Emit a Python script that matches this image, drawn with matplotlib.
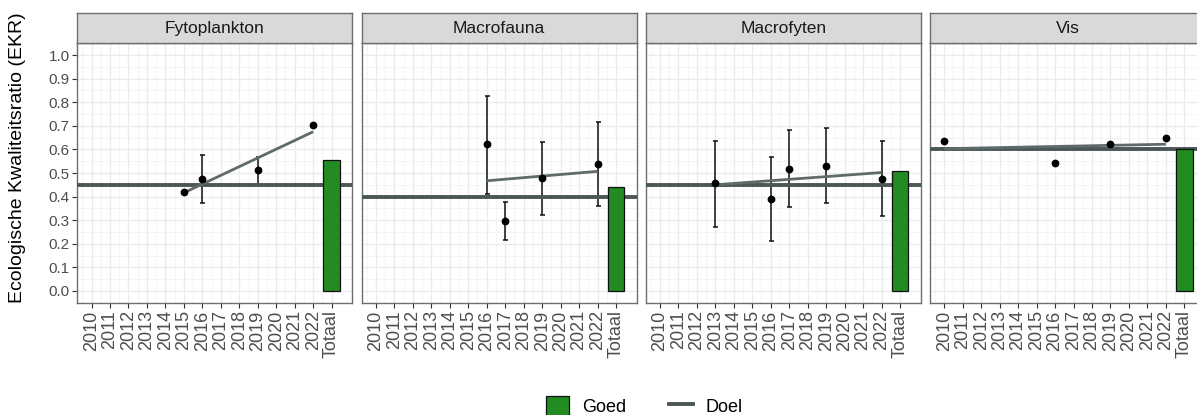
"""EKR per kwaliteitselement: jaarwaarden, trend, doel en totaaloordeel."""

import matplotlib

matplotlib.use("Agg")

import numpy as np
from matplotlib import pyplot as plt
from matplotlib.lines import Line2D
from matplotlib.patches import Patch

plt.rcParams["font.family"] = ["Liberation Sans", "DejaVu Sans"]

YEARS = list(range(2010, 2023))
TICK_LABELS = [str(y) for y in YEARS] + ["Totaal"]

PANELS = ["Fytoplankton", "Macrofauna", "Macrofyten", "Vis"]
DOEL = [0.45, 0.40, 0.45, 0.60]
TOTAAL = [0.557, 0.439, 0.509, 0.60]

# jaarwaarden per paneel: jaar, EKR, ondergrens, bovengrens (None = geen foutbalk)
FYTO_YEARS = [2015, 2016, 2019, 2022]
FYTO_EKR = [0.419, 0.474, 0.512, 0.703]
FYTO_LOW = [None, 0.371, 0.45, None]
FYTO_HIGH = [None, 0.576, 0.569, None]

FAUNA_YEARS = [2016, 2017, 2019, 2022]
FAUNA_EKR = [0.621, 0.296, 0.479, 0.540]
FAUNA_LOW = [0.413, 0.215, 0.324, 0.361]
FAUNA_HIGH = [0.827, 0.375, 0.632, 0.717]

FYTEN_YEARS = [2013, 2016, 2017, 2019, 2022]
FYTEN_EKR = [0.457, 0.388, 0.519, 0.530, 0.475]
FYTEN_LOW = [0.272, 0.211, 0.355, 0.371, 0.317]
FYTEN_HIGH = [0.635, 0.566, 0.682, 0.690, 0.634]

VIS_YEARS = [2010, 2016, 2019, 2022]
VIS_EKR = [0.636, 0.542, 0.622, 0.649]
VIS_LOW = [None, None, None, None]
VIS_HIGH = [None, None, None, None]

# trendlijn: (beginjaar, beginwaarde, eindjaar, eindwaarde)
TRENDS = [
    (2015, 0.416, 2022, 0.675),
    (2016, 0.467, 2022, 0.507),
    (2013, 0.450, 2022, 0.502),
    (2010, 0.603, 2022, 0.622),
]

POINTS = [
    (FYTO_YEARS, FYTO_EKR, FYTO_LOW, FYTO_HIGH),
    (FAUNA_YEARS, FAUNA_EKR, FAUNA_LOW, FAUNA_HIGH),
    (FYTEN_YEARS, FYTEN_EKR, FYTEN_LOW, FYTEN_HIGH),
    (VIS_YEARS, VIS_EKR, VIS_LOW, VIS_HIGH),
]

GREEN = "#228B22"
DOEL_COLOR = "#4B5757"
TREND_COLOR = "#5F6B6B"
BORDER = "#6E6E6E"
W, H = 1197, 415


def pos(year):
    return YEARS.index(year)


def main():
    fig = plt.figure(figsize=(W / 100, H / 100), dpi=100)
    lefts = [77.3, 361.7, 645.7, 930.0]
    pw, top, bottom, strip_top = 275.0, 43.3, 302.7, 13.3

    for i, name in enumerate(PANELS):
        ax = fig.add_axes([lefts[i] / W, 1 - bottom / H, pw / W, (bottom - top) / H])
        sx = fig.add_axes([lefts[i] / W, 1 - top / H, pw / W, (top - strip_top) / H])

        years, ekr, low, high = POINTS[i]
        xs = [pos(y) for y in years]
        for x, v, lo, hi in zip(xs, ekr, low, high):
            if lo is not None:
                ax.errorbar(x, v, yerr=[[v - lo], [hi - v]], fmt="none", ecolor="#111111",
                            elinewidth=1.1, capsize=1.8, capthick=1.1, zorder=2)
        ax.axhline(DOEL[i], color=DOEL_COLOR, linewidth=2.8, zorder=3)
        y0, v0, y1, v1 = TRENDS[i]
        ax.plot([pos(y0), pos(y1)], [v0, v1], color=TREND_COLOR, linewidth=2.0,
                solid_capstyle="butt", zorder=3.5)
        ax.bar(len(YEARS), TOTAAL[i], width=0.9, color=GREEN, edgecolor="#111111",
               linewidth=0.9, zorder=4)
        ax.plot(xs, ekr, "o", color="black", markersize=4.6, zorder=5)

        ax.set_xlim(-0.77, 14.12)
        ax.set_ylim(-0.05, 1.05)
        ax.set_xticks(np.arange(len(TICK_LABELS)))
        ax.set_xticklabels(TICK_LABELS, rotation=90, fontsize=13, color="#4D4D4D")
        ax.set_xticks(np.arange(len(TICK_LABELS)) - 0.5, minor=True)
        ax.set_yticks(np.round(np.arange(0, 1.01, 0.1), 1))
        ax.set_yticklabels([f"{v:.1f}" for v in np.arange(0, 1.01, 0.1)], fontsize=11,
                           color="#4D4D4D")
        ax.set_yticks(np.arange(-0.05, 1.06, 0.1), minor=True)
        ax.grid(which="major", color="#EBEBEB", linewidth=1.0, zorder=0)
        ax.grid(which="minor", color="#F2F2F2", linewidth=0.6, zorder=0)
        ax.set_axisbelow(True)
        ax.tick_params(which="major", length=3.5, width=0.8, color="#333333", pad=2)
        ax.tick_params(which="minor", length=0)
        if i > 0:
            ax.tick_params(axis="y", which="both", left=False, labelleft=False)
        for sp in ax.spines.values():
            sp.set_color(BORDER)
            sp.set_linewidth(1.0)

        sx.set_facecolor("#D9D9D9")
        sx.set_xticks([])
        sx.set_yticks([])
        for sp in sx.spines.values():
            sp.set_color(BORDER)
            sp.set_linewidth(1.0)
        sx.text(0.5, 0.5, name, ha="center", va="center", fontsize=12.5, color="#1A1A1A",
                transform=sx.transAxes)

    fig.text(18 / W, 1 - 158 / H, "Ecologische Kwaliteitsratio (EKR)", rotation=90,
             ha="center", va="center", fontsize=14, color="black")

    handles = [
        Patch(facecolor=GREEN, edgecolor="#111111", linewidth=0.9, label="Goed"),
        Line2D([], [], color=DOEL_COLOR, linewidth=2.8, label="Doel"),
    ]
    fig.legend(handles=handles, loc="center", bbox_to_anchor=(0.538, 0.022), ncol=2,
               frameon=False, fontsize=13, handlelength=1.3, handleheight=1.3,
               handletextpad=0.7, columnspacing=2.4)

    fig.savefig("out.png", dpi=100)
    plt.close(fig)


if __name__ == "__main__":
    main()
